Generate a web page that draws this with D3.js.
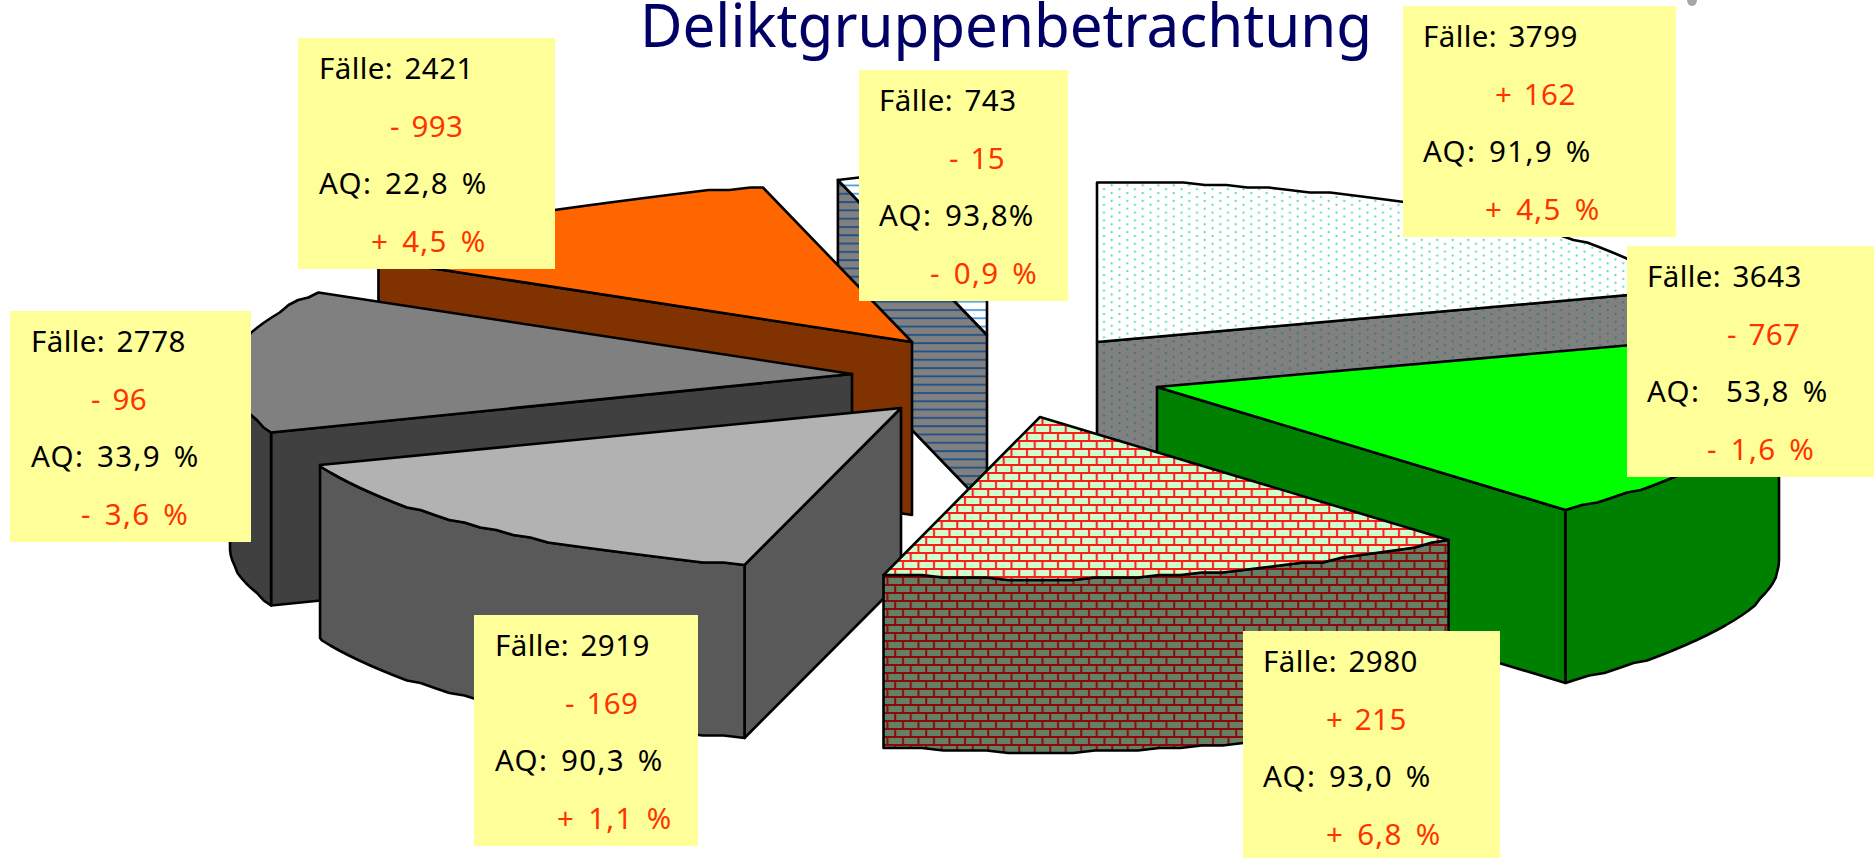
<!DOCTYPE html>
<html><head><meta charset="utf-8">
<script src="https://cdn.jsdelivr.net/npm/d3@7/dist/d3.min.js"></script>
<style>html,body{margin:0;padding:0;background:#fff;overflow:hidden}svg{display:block}</style>
</head><body><svg id="c" width="1874" height="858"></svg>
<script>
// data
const faelle      = [3799, 3643, 2980, 2919, 2778, 2421, 743];
const faelleDelta = ["+ 162", "- 767", "+ 215", "- 169", "- 96", "- 993", "- 15"];
const aq          = ["91,9 %", " 53,8 %", "93,0 %", "90,3 %", "33,9 %", "22,8 %", "93,8%"];
const aqDelta     = ["+ 4,5 %", "- 1,6 %", "+ 6,8 %", "+ 1,1 %", "- 3,6 %", "+ 4,5 %", "- 0,9 %"];
const titleText   = "Deliktgruppenbetrachtung";

// layout
const W = 1874, H = 858, RX = 622, RY_BACK = 160, RY_FRONT = 162, DEPTH = 173;
const sliceKey = ["dots", "green", "brick", "light", "dark", "orange", "stripes"];
const apexX = [1097, 1157, 1040, 901, 852, 912, 987];
const apexY = [342, 387, 417, 408, 374, 342, 335];
const paintOrder = [6, 0, 5, 4, 1, 3, 2];
const boxX0 = [1403, 1627, 1243, 474, 10, 298, 859];
const boxX1 = [1676, 1874, 1500, 698, 251, 555, 1068];
const boxY0 = [6, 246, 631, 615, 311, 38, 70];
const boxY1 = [237, 477, 858, 846, 542, 269, 301];
const textX = [1423, 1647, 1263, 495, 31, 319, 879];
const deltaX = [1495, 1727, 1326, 565, 91, 390, 949];
const aqDeltaX = [1485, 1707, 1326, 557, 81, 371, 930];
const LINE0 = 41, LINE = 57.6;
const topFill = {dots:"url(#pDotTop)", green:"#00ff00", brick:"url(#pBrickTop)", light:"#b2b2b2", dark:"#808080", orange:"#ff6600", stripes:"url(#pStripeTop)"};
const sideFill = {dots:"url(#pDotSide)", green:"#008000", brick:"url(#pBrickSide)", light:"#595959", dark:"#404040", orange:"#803300", stripes:"url(#pStripeSide)"};

const svg = d3.select("#c");
const defs = svg.append("defs");

function dotPattern(id, bg, col){
  const p = defs.append("pattern").attr("id",id).attr("patternUnits","userSpaceOnUse").attr("width",15.5).attr("height",7.8);
  p.append("rect").attr("width",15.5).attr("height",7.8).attr("fill",bg);
  p.append("circle").attr("cx",3.5).attr("cy",2).attr("r",1.1).attr("fill",col);
  p.append("circle").attr("cx",11.25).attr("cy",5.9).attr("r",1.1).attr("fill",col);
}
dotPattern("pDotTop","#ffffff","#3fd8ae");
dotPattern("pDotSide","#808080","#2b7a68");

function stripePattern(id, bg, col){
  const p = defs.append("pattern").attr("id",id).attr("patternUnits","userSpaceOnUse").attr("width",8).attr("height",8.3);
  p.append("rect").attr("width",8).attr("height",8.3).attr("fill",bg);
  p.append("rect").attr("y",2).attr("width",8).attr("height",1.8).attr("fill",col);
}
stripePattern("pStripeTop","#ffffff","#4a9ae0");
stripePattern("pStripeSide","#808080","#1c4f86");

function brickPattern(id, bg, col){
  const w = 15.5, h = 16;
  const p = defs.append("pattern").attr("id",id).attr("patternUnits","userSpaceOnUse").attr("width",w).attr("height",h);
  p.append("rect").attr("width",w).attr("height",h).attr("fill",bg);
  const line = (x,y,a,b)=>p.append("rect").attr("x",x).attr("y",y).attr("width",a).attr("height",b).attr("fill",col);
  line(0,0,w,2); line(0,8,w,2); line(3,0,2,8); line(10.75,8,2,8);
}
brickPattern("pBrickTop","#ccffcc","#ff1a1a");
brickPattern("pBrickSide","#668066","#8a0a0a");

// one pie: angles come from the case counts
const arcs = d3.pie().sort(null).startAngle(0).endAngle(2*Math.PI)(faelle);
const sx = d3.scaleLinear().domain([-1,1]).range([-RX,RX]);
const sy = d3.scaleLinear().domain([-1,0,1]).range([RY_FRONT,0,-RY_BACK]);
const lineGen = d3.line().x(d=>d[0]).y(d=>d[1]);
function rim(i,a){ // projected point on the rim of slice i at angle a
  const x = apexX[i]+sx(Math.sin(a));
  const y = apexY[i]+sy(Math.cos(a));
  return [x, Math.round(y/2.5)*2.5];
}
function sampleAngles(a0,a1){ return d3.range(a0,a1,(2*Math.PI/360)*2).concat([a1]); }
const shape = (pts)=>lineGen(pts)+"Z";
const down = p=>[p[0],p[1]+DEPTH];

const g = svg.append("g");
paintOrder.forEach(i=>{
  const d = arcs[i], k = sliceKey[i], apex=[apexX[i],apexY[i]];
  const s = g.append("g").attr("class","slice-"+k)
    .attr("stroke","#000").attr("stroke-width",2.6).attr("stroke-linejoin","round");
  const a = rim(i,d.startAngle), b = rim(i,d.endAngle);
  // radial walls: only the ones that face the viewer
  if(d.startAngle>Math.PI) s.append("path").attr("d",shape([apex,a,down(a),down(apex)])).attr("fill",sideFill[k]);
  if(d.endAngle<Math.PI) s.append("path").attr("d",shape([apex,b,down(b),down(apex)])).attr("fill",sideFill[k]);
  // outer wall: the part of the rim that faces the viewer
  const lo = Math.max(d.startAngle,Math.PI/2), hi = Math.min(d.endAngle,3*Math.PI/2);
  if(lo<hi){
    const top = sampleAngles(lo,hi).map(t=>rim(i,t));
    s.append("path").attr("d",shape(top.concat(top.map(down).reverse()))).attr("fill",sideFill[k]);
  }
  // top face
  const rimPts = sampleAngles(d.startAngle,d.endAngle).map(t=>rim(i,t));
  s.append("path").attr("d",shape([apex].concat(rimPts))).attr("fill",topFill[k]);
});

// small grey fragment at the top edge
svg.append("ellipse").attr("cx",1692).attr("cy",0).attr("rx",5).attr("ry",6).attr("fill","#a6a6a6");

// title
svg.append("text").attr("x",640).attr("y",47).attr("font-family","'Noto Sans'").attr("font-size",60)
  .attr("fill","#000066").attr("textLength",732).attr("lengthAdjust","spacingAndGlyphs").text(titleText);

// note boxes
const notes = svg.append("g").selectAll("g").data(faelle).join("g");
notes.append("rect").attr("x",(d,i)=>boxX0[i]).attr("y",(d,i)=>boxY0[i])
  .attr("width",(d,i)=>boxX1[i]-boxX0[i]).attr("height",(d,i)=>boxY1[i]-boxY0[i]).attr("fill","#ffff99");
const black="#000000", red="#ff3300";
const rows = [
  {t:(d,i)=>"Fälle: "+d, x:i=>textX[i], c:black, ws:3.5, ls:0.4},
  {t:(d,i)=>faelleDelta[i], x:i=>deltaX[i], c:red, ws:3.5, ls:0.4},
  {t:(d,i)=>"AQ: "+aq[i], x:i=>textX[i], c:black, ws:4, ls:1.3},
  {t:(d,i)=>aqDelta[i], x:i=>aqDeltaX[i], c:red, ws:4, ls:1.3}
];
rows.forEach((r,n)=>{
  notes.append("text").style("white-space","pre")
    .attr("x",(d,i)=>r.x(i)).attr("y",(d,i)=>boxY0[i]+LINE0+n*LINE)
    .attr("font-family","'Noto Sans'").attr("font-size",29.5)
    .attr("word-spacing",r.ws).attr("letter-spacing",r.ls).attr("fill",r.c)
    .text(r.t);
});
</script></body></html>
